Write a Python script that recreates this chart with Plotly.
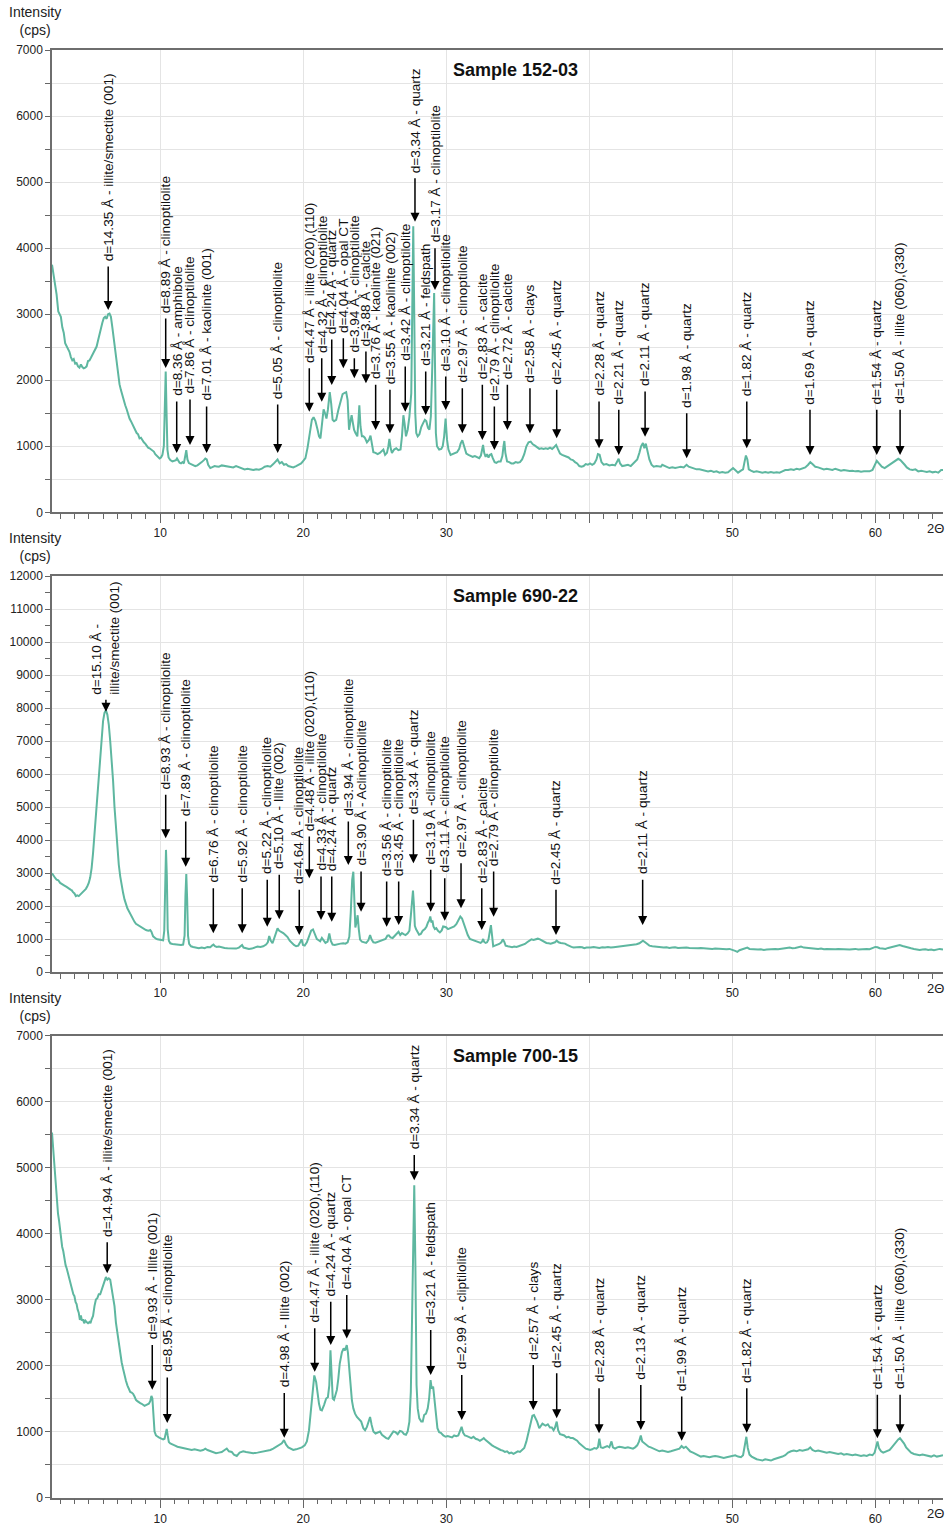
import plotly.graph_objects as go

# ---------------- data (2theta, intensity cps) ----------------
S152_03 = [(2.43,3750),(2.55,3600),(2.65,3420),(2.75,3300),(2.87,3040),(2.95,3000),(3.05,2960),(3.15,2800),(3.25,2720),(3.35,2560),
(3.45,2510),(3.55,2480),(3.65,2430),(3.75,2350),(3.85,2300),(3.95,2320),(4.05,2250),(4.15,2260),(4.25,2210),(4.35,2190),
(4.45,2240),(4.55,2200),(4.65,2180),(4.75,2190),(4.85,2210),(4.95,2290),(5.05,2300),(5.15,2340),(5.25,2380),(5.35,2420),
(5.45,2460),(5.55,2510),(5.65,2600),(5.75,2700),(5.85,2790),(5.95,2870),(6.05,2940),(6.15,2960),(6.25,2930),(6.35,3000),
(6.45,3010),(6.55,2960),(6.65,2800),(6.75,2620),(6.85,2420),(6.95,2210),(7.05,2060),(7.15,1940),(7.25,1850),(7.35,1760),
(7.45,1690),(7.55,1620),(7.65,1560),(7.75,1470),(7.85,1420),(7.95,1380),(8.05,1330),(8.15,1290),(8.25,1240),(8.35,1200),
(8.45,1180),(8.55,1120),(8.65,1130),(8.75,1090),(8.85,1060),(8.95,1040),(9.05,1010),(9.15,980),(9.25,970),(9.35,950),
(9.45,940),(9.55,920),(9.65,880),(9.75,860),(9.85,840),(9.95,815),(10.05,830),(10.15,870),(10.25,1000),(10.32,1600),
(10.38,2130),(10.44,1500),(10.5,950),(10.58,830),(10.7,790),(10.85,770),(11.0,780),(11.1,790),(11.17,815),(11.25,780),
(11.35,750),(11.45,740),(11.55,760),(11.65,740),(11.75,830),(11.82,940),(11.9,800),(12.0,745),(12.15,730),(12.3,720),
(12.45,700),(12.6,710),(12.75,730),(12.9,760),(13.05,790),(13.15,815),(13.25,800),(13.35,720),(13.5,670),(13.65,690),
(13.8,700),(13.95,695),(14.1,690),(14.3,710),(14.5,700),(14.7,690),(14.9,680),(15.1,680),(15.3,700),(15.5,680),
(15.7,660),(15.9,650),(16.1,660),(16.3,650),(16.5,640),(16.7,650),(16.9,645),(17.1,660),(17.3,690),(17.5,700),
(17.7,690),(17.9,730),(18.05,760),(18.2,800),(18.35,740),(18.5,760),(18.65,720),(18.8,730),(18.95,700),(19.1,690),
(19.3,680),(19.5,700),(19.7,720),(19.85,740),(20.0,780),(20.15,820),(20.3,980),(20.45,1200),(20.6,1400),(20.72,1440),
(20.85,1380),(21.0,1250),(21.1,1150),(21.2,1120),(21.3,1300),(21.42,1560),(21.52,1500),(21.62,1420),(21.72,1550),(21.85,1820),
(21.95,1650),(22.05,1400),(22.15,1380),(22.3,1400),(22.45,1550),(22.6,1680),(22.75,1790),(22.9,1810),(23.0,1820),(23.1,1700),
(23.2,1250),(23.3,1380),(23.38,1470),(23.47,1350),(23.55,1250),(23.65,1200),(23.78,1150),(23.86,1400),(23.92,1620),(24.0,1300),
(24.1,1150),(24.2,1150),(24.3,1130),(24.45,1060),(24.6,1100),(24.7,1160),(24.8,1000),(24.9,910),(25.05,900),(25.2,880),
(25.35,900),(25.5,930),(25.6,950),(25.72,870),(25.85,900),(25.95,1000),(26.02,1110),(26.12,960),(26.2,900),(26.35,950),
(26.5,970),(26.65,940),(26.8,950),(26.9,1150),(27.0,1470),(27.08,1350),(27.18,1150),(27.3,1250),(27.42,1450),(27.55,1800),
(27.62,3200),(27.69,4330),(27.76,3000),(27.83,1500),(27.9,1200),(28.0,1150),(28.12,1180),(28.25,1290),(28.38,1350),(28.5,1400),
(28.6,1380),(28.72,1280),(28.82,1250),(28.92,1450),(29.02,2200),(29.1,3000),(29.15,3320),(29.2,2400),(29.27,1200),(29.35,1000),
(29.5,950),(29.65,960),(29.75,1000),(29.85,1150),(29.95,1420),(30.05,1100),(30.15,950),(30.3,870),(30.45,880),(30.6,900),
(30.75,910),(30.9,960),(31.0,1040),(31.12,1090),(31.25,1000),(31.4,890),(31.55,870),(31.7,860),(31.85,840),(32.0,850),
(32.15,830),(32.3,820),(32.42,860),(32.5,960),(32.57,1020),(32.65,900),(32.75,840),(32.85,880),(32.95,830),(33.05,870),
(33.15,880),(33.25,820),(33.38,760),(33.5,750),(33.65,770),(33.8,770),(33.92,850),(34.0,1000),(34.06,1080),(34.13,900),
(34.25,770),(34.4,760),(34.55,740),(34.7,740),(34.85,760),(35.0,750),(35.15,760),(35.3,800),(35.45,880),(35.6,1000),
(35.75,1060),(35.9,1070),(36.05,1030),(36.2,1010),(36.35,980),(36.5,960),(36.65,970),(36.8,960),(36.95,970),(37.1,960),
(37.25,980),(37.4,960),(37.55,990),(37.68,1020),(37.8,960),(37.95,890),(38.1,870),(38.25,860),(38.4,840),(38.55,830),
(38.7,800),(38.85,790),(39.0,760),(39.15,740),(39.3,700),(39.45,690),(39.6,700),(39.75,730),(39.9,720),(40.05,740),
(40.2,720),(40.35,740),(40.5,800),(40.6,880),(40.72,870),(40.85,760),(41.0,720),(41.2,730),(41.4,710),(41.6,720),
(41.8,710),(41.95,760),(42.05,810),(42.15,740),(42.3,700),(42.5,710),(42.7,720),(42.9,700),(43.05,730),(43.2,760),
(43.35,800),(43.5,900),(43.62,1000),(43.75,1050),(43.85,970),(43.95,1040),(44.05,950),(44.2,800),(44.35,720),(44.5,690),
(44.7,700),(44.85,700),(45.0,690),(45.1,720),(45.2,710),(45.4,680),(45.6,670),(45.8,680),(46.0,670),(46.2,680),
(46.4,690),(46.6,680),(46.8,720),(46.95,690),(47.1,680),(47.3,670),(47.5,650),(47.7,650),(47.9,640),(48.1,640),
(48.3,620),(48.5,630),(48.7,610),(48.9,620),(49.1,600),(49.3,610),(49.5,600),(49.7,605),(49.9,640),(50.05,670),
(50.2,640),(50.4,600),(50.6,630),(50.75,650),(50.85,760),(50.95,860),(51.05,800),(51.15,650),(51.3,630),(51.5,610),
(51.7,620),(51.9,605),(52.1,600),(52.3,610),(52.5,600),(52.7,610),(52.9,600),(53.1,605),(53.3,600),(53.5,620),
(53.7,640),(53.9,640),(54.1,650),(54.3,640),(54.5,660),(54.7,650),(54.9,665),(55.1,680),(55.3,720),(55.45,760),
(55.6,730),(55.8,690),(56.0,680),(56.2,660),(56.4,650),(56.6,660),(56.8,650),(57.0,640),(57.2,660),(57.4,640),
(57.6,630),(57.8,640),(58.0,630),(58.2,625),(58.4,630),(58.6,620),(58.8,625),(59.0,615),(59.2,620),(59.4,615),
(59.6,620),(59.8,640),(59.95,720),(60.1,780),(60.25,740),(60.45,690),(60.65,670),(60.85,700),(61.05,720),(61.25,750),
(61.45,780),(61.6,810),(61.75,790),(61.9,760),(62.05,720),(62.2,680),(62.4,650),(62.6,640),(62.8,650),(63.0,620),
(63.2,630),(63.4,620),(63.6,610),(63.8,620),(64.0,605),(64.2,615),(64.4,600),(64.6,640),(64.73,640)]

S690_22 = [(2.43,2990),(2.55,2900),(2.65,2850),(2.75,2800),(2.87,2780),(3.0,2700),(3.1,2680),(3.2,2650),(3.3,2620),(3.45,2580),
(3.55,2560),(3.65,2520),(3.75,2490),(3.8,2480),(3.9,2420),(4.0,2380),(4.1,2300),(4.2,2320),(4.3,2300),(4.4,2340),
(4.5,2380),(4.6,2430),(4.7,2460),(4.8,2520),(4.9,2600),(5.0,2700),(5.1,2860),(5.2,3150),(5.3,3600),(5.4,4200),
(5.5,4750),(5.6,5300),(5.7,6000),(5.8,6700),(5.9,7200),(6.0,7600),(6.1,7850),(6.2,7930),(6.3,7800),(6.4,7500),
(6.5,7000),(6.6,6450),(6.7,5800),(6.8,5000),(6.9,4300),(7.0,3700),(7.1,3250),(7.2,2900),(7.3,2600),(7.4,2400),
(7.5,2200),(7.6,2050),(7.7,1930),(7.8,1850),(7.9,1760),(8.0,1650),(8.1,1580),(8.2,1520),(8.3,1460),(8.4,1430),
(8.5,1400),(8.6,1370),(8.7,1340),(8.8,1310),(8.9,1290),(9.0,1270),(9.1,1260),(9.2,1250),(9.3,1270),(9.38,1220),
(9.5,1080),(9.6,1030),(9.7,1010),(9.8,990),(9.9,980),(10.0,960),(10.1,950),(10.2,960),(10.28,1250),(10.34,2900),
(10.4,3700),(10.46,2900),(10.52,1300),(10.6,950),(10.7,870),(10.85,850),(11.0,840),(11.15,830),(11.3,840),(11.45,820),
(11.6,830),(11.7,1100),(11.76,2300),(11.82,2970),(11.88,2200),(11.94,1100),(12.02,850),(12.15,780),(12.3,760),(12.5,730),
(12.7,720),(12.9,740),(13.1,720),(13.3,760),(13.5,750),(13.62,800),(13.72,830),(13.82,780),(13.95,760),(14.1,770),
(14.3,740),(14.5,730),(14.7,720),(14.9,710),(15.1,720),(15.3,710),(15.5,740),(15.62,770),(15.72,820),(15.82,740),
(16.0,720),(16.2,700),(16.4,710),(16.6,750),(16.8,770),(17.0,760),(17.2,780),(17.4,830),(17.52,900),(17.62,1090),
(17.72,950),(17.85,870),(17.98,1050),(18.1,1250),(18.2,1320),(18.32,1250),(18.45,1220),(18.6,1180),(18.75,1120),(18.9,1060),
(19.05,950),(19.2,880),(19.35,820),(19.5,780),(19.65,800),(19.78,900),(19.88,990),(19.98,820),(20.1,800),(20.25,900),
(20.4,1050),(20.55,1250),(20.68,1290),(20.8,1180),(20.95,1000),(21.05,970),(21.18,930),(21.3,1030),(21.42,960),(21.55,880),
(21.7,920),(21.82,1170),(21.92,950),(22.05,830),(22.2,820),(22.4,850),(22.6,860),(22.8,870),(22.95,860),(23.1,900),
(23.22,1070),(23.32,1800),(23.42,2800),(23.5,3040),(23.58,2100),(23.64,1350),(23.72,1500),(23.8,1720),(23.88,1300),(23.97,980),
(24.1,920),(24.25,900),(24.4,880),(24.55,960),(24.67,1120),(24.78,980),(24.9,900),(25.05,890),(25.25,920),(25.45,960),
(25.6,970),(25.75,1000),(25.88,1100),(25.98,1110),(26.1,1050),(26.25,1030),(26.4,1100),(26.55,1180),(26.66,1220),(26.78,1120),
(26.9,1180),(27.02,1150),(27.15,1120),(27.3,1170),(27.42,1250),(27.52,1700),(27.6,2300),(27.67,2470),(27.74,2000),(27.8,1400),
(27.88,1300),(27.98,1200),(28.1,1130),(28.22,1150),(28.35,1250),(28.5,1300),(28.62,1380),(28.72,1500),(28.8,1560),(28.88,1680),
(28.96,1500),(29.03,1560),(29.1,1380),(29.2,1300),(29.3,1330),(29.42,1250),(29.55,1200),(29.68,1260),(29.78,1380),(29.88,1370),
(30.0,1350),(30.12,1300),(30.25,1330),(30.4,1370),(30.55,1380),(30.7,1450),(30.85,1590),(30.98,1680),(31.1,1620),(31.22,1450),
(31.35,1260),(31.5,1120),(31.65,1000),(31.8,980),(31.95,950),(32.1,920),(32.25,900),(32.4,880),(32.5,920),(32.58,1000),
(32.65,910),(32.75,880),(32.85,900),(32.95,990),(33.05,1250),(33.12,1420),(33.2,1100),(33.28,780),(33.4,800),(33.55,820),
(33.7,850),(33.85,900),(33.95,990),(34.05,920),(34.15,800),(34.3,780),(34.45,760),(34.6,750),(34.75,770),(34.9,760),
(35.05,780),(35.2,800),(35.35,820),(35.5,850),(35.65,900),(35.8,960),(35.95,990),(36.1,970),(36.25,1000),(36.4,1010),
(36.55,990),(36.7,950),(36.85,920),(37.0,880),(37.15,870),(37.3,860),(37.45,880),(37.6,900),(37.72,950),(37.85,900),
(38.0,880),(38.15,870),(38.3,860),(38.45,820),(38.6,780),(38.75,760),(38.9,740),(39.05,750),(39.2,740),(39.35,760),
(39.5,750),(39.65,720),(39.8,740),(39.95,730),(40.1,740),(40.3,760),(40.5,740),(40.7,730),(40.9,750),(41.1,740),
(41.3,760),(41.5,740),(41.7,750),(41.9,760),(42.1,770),(42.3,780),(42.5,790),(42.7,800),(42.9,810),(43.1,830),
(43.3,840),(43.5,870),(43.65,920),(43.75,950),(43.9,900),(44.05,840),(44.2,800),(44.4,780),(44.6,770),(44.8,750),
(45.0,760),(45.2,740),(45.4,750),(45.6,730),(45.8,740),(46.0,750),(46.2,730),(46.4,740),(46.6,730),(46.8,740),
(47.0,730),(47.2,720),(47.4,730),(47.6,720),(47.8,730),(48.0,720),(48.2,710),(48.4,720),(48.6,700),(48.8,710),
(49.0,700),(49.2,690),(49.4,700),(49.6,690),(49.8,700),(50.0,680),(50.2,640),(50.35,610),(50.5,660),(50.7,690),
(50.9,720),(51.05,740),(51.2,700),(51.4,690),(51.6,700),(51.8,680),(52.0,690),(52.2,670),(52.4,680),(52.6,690),
(52.8,680),(53.0,700),(53.2,690),(53.4,710),(53.6,720),(53.8,730),(54.0,740),(54.2,720),(54.4,730),(54.6,760),
(54.8,770),(55.0,740),(55.2,730),(55.4,720),(55.6,730),(55.8,710),(56.0,700),(56.2,710),(56.4,690),(56.6,700),
(56.8,690),(57.0,700),(57.2,690),(57.4,700),(57.6,690),(57.8,680),(58.0,690),(58.2,680),(58.4,690),(58.6,700),
(58.8,680),(59.0,690),(59.2,680),(59.4,700),(59.6,690),(59.8,720),(60.0,760),(60.15,750),(60.3,720),(60.5,710),
(60.7,700),(60.9,730),(61.1,750),(61.3,780),(61.5,810),(61.7,820),(61.9,790),(62.1,760),(62.3,740),(62.5,720),
(62.7,700),(62.9,680),(63.1,670),(63.3,680),(63.5,690),(63.7,670),(63.9,680),(64.1,660),(64.3,690),(64.5,700),(64.73,680)]

S700_15 = [(2.43,5530),(2.5,5300),(2.59,5080),(2.68,4800),(2.76,4570),(2.85,4300),(2.92,4200),(2.99,4040),(3.07,3900),(3.14,3800),
(3.22,3730),(3.3,3600),(3.38,3520),(3.46,3470),(3.55,3380),(3.62,3320),(3.69,3290),(3.8,3180),(3.92,3080),(4.0,3050),
(4.08,2960),(4.15,2930),(4.22,2850),(4.3,2800),(4.38,2690),(4.45,2760),(4.52,2680),(4.6,2700),(4.68,2640),(4.76,2680),
(4.85,2660),(4.95,2640),(5.05,2660),(5.12,2640),(5.2,2700),(5.3,2750),(5.4,2900),(5.5,3000),(5.6,3020),(5.7,3080),
(5.8,3080),(5.9,3150),(6.0,3220),(6.1,3300),(6.2,3340),(6.3,3300),(6.4,3320),(6.5,3300),(6.6,3150),(6.7,3000),
(6.8,2900),(6.9,2650),(7.0,2480),(7.1,2320),(7.2,2160),(7.3,2050),(7.4,1950),(7.5,1830),(7.6,1770),(7.7,1700),
(7.8,1640),(7.9,1600),(8.0,1590),(8.1,1570),(8.2,1530),(8.3,1480),(8.4,1460),(8.5,1440),(8.6,1430),(8.7,1420),
(8.8,1400),(8.9,1390),(9.0,1400),(9.1,1410),(9.2,1420),(9.3,1460),(9.38,1540),(9.45,1500),(9.52,1150),(9.6,1000),
(9.7,940),(9.8,920),(9.9,910),(10.0,900),(10.1,890),(10.2,880),(10.3,890),(10.38,960),(10.45,1040),(10.52,940),
(10.6,840),(10.7,820),(10.85,800),(11.0,790),(11.2,770),(11.4,760),(11.6,750),(11.8,740),(12.0,730),(12.2,720),
(12.4,730),(12.6,720),(12.8,710),(13.0,720),(13.15,740),(13.3,720),(13.5,700),(13.7,690),(13.9,670),(14.1,680),
(14.3,690),(14.5,720),(14.65,740),(14.8,700),(15.0,690),(15.15,650),(15.35,630),(15.55,680),(15.8,700),(16.0,690),
(16.2,680),(16.5,670),(16.8,680),(17.1,690),(17.4,700),(17.7,720),(17.9,740),(18.1,770),(18.3,790),(18.5,820),
(18.65,870),(18.8,800),(18.95,760),(19.1,740),(19.3,720),(19.5,730),(19.7,740),(19.9,760),(20.1,790),(20.25,850),
(20.4,1020),(20.52,1300),(20.65,1650),(20.77,1850),(20.9,1750),(21.0,1550),(21.1,1420),(21.2,1330),(21.3,1320),(21.45,1400),
(21.6,1500),(21.72,1520),(21.82,1700),(21.9,2230),(21.98,1800),(22.06,1500),(22.15,1480),(22.25,1550),(22.35,1630),(22.45,1800),
(22.55,2030),(22.7,2200),(22.82,2260),(22.92,2230),(23.04,2310),(23.12,2200),(23.22,1930),(23.32,1650),(23.4,1470),(23.5,1350),
(23.62,1270),(23.75,1220),(23.9,1180),(24.05,1150),(24.2,1050),(24.32,1020),(24.45,1070),(24.58,1150),(24.67,1220),(24.78,1100),
(24.9,1000),(25.05,970),(25.2,990),(25.36,1000),(25.5,950),(25.65,920),(25.8,900),(25.95,890),(26.1,940),(26.2,960),
(26.3,1000),(26.45,990),(26.6,960),(26.76,1010),(26.9,1000),(27.05,960),(27.18,950),(27.3,1000),(27.42,1150),(27.52,1600),
(27.6,2800),(27.68,4050),(27.76,4730),(27.84,3500),(27.92,1700),(28.0,1350),(28.11,1200),(28.25,1150),(28.35,1150),(28.45,1250),
(28.58,1270),(28.7,1350),(28.8,1500),(28.9,1780),(28.98,1650),(29.08,1680),(29.16,1500),(29.26,1200),(29.38,1050),(29.5,990),
(29.62,980),(29.79,940),(29.95,920),(30.1,930),(30.25,920),(30.4,910),(30.55,940),(30.7,930),(30.84,940),(30.95,990),
(31.07,1070),(31.18,980),(31.3,940),(31.45,930),(31.6,910),(31.75,900),(31.9,920),(32.05,890),(32.2,880),(32.35,860),
(32.5,880),(32.62,900),(32.75,870),(32.9,840),(33.05,820),(33.2,790),(33.35,770),(33.5,750),(33.65,730),(33.8,720),
(33.95,710),(34.1,690),(34.25,700),(34.4,670),(34.55,680),(34.7,660),(34.85,680),(35.0,700),(35.15,690),(35.3,720),
(35.45,750),(35.6,850),(35.75,1000),(35.9,1150),(36.02,1240),(36.13,1250),(36.25,1200),(36.35,1150),(36.5,1050),(36.6,1080),
(36.72,1120),(36.85,1100),(36.95,1090),(37.1,1110),(37.25,1060),(37.38,1060),(37.5,1020),(37.6,1060),(37.72,1150),(37.82,1020),
(37.95,960),(38.1,950),(38.25,940),(38.4,910),(38.55,920),(38.7,900),(38.85,900),(39.0,880),(39.15,860),(39.3,820),
(39.45,790),(39.6,760),(39.75,740),(39.9,730),(40.05,720),(40.2,730),(40.35,750),(40.5,740),(40.6,760),(40.7,890),
(40.8,760),(40.95,750),(41.1,760),(41.25,780),(41.4,760),(41.55,850),(41.65,760),(41.8,740),(41.95,760),(42.1,770),
(42.3,760),(42.5,750),(42.7,760),(42.9,750),(43.05,740),(43.2,760),(43.35,790),(43.48,850),(43.6,940),(43.7,850),
(43.85,820),(44.0,790),(44.15,770),(44.3,760),(44.5,740),(44.7,720),(44.9,700),(45.1,710),(45.3,700),(45.5,690),
(45.7,700),(45.9,710),(46.1,730),(46.3,740),(46.45,780),(46.6,750),(46.75,770),(46.9,740),(47.05,700),(47.25,680),
(47.45,660),(47.65,640),(47.8,620),(48.0,630),(48.2,620),(48.4,610),(48.6,620),(48.8,630),(49.0,620),(49.2,610),
(49.4,600),(49.6,610),(49.8,620),(50.0,630),(50.2,640),(50.4,620),(50.6,610),(50.75,640),(50.88,800),(50.98,920),
(51.08,750),(51.2,650),(51.35,620),(51.5,600),(51.7,580),(51.9,570),(52.1,560),(52.3,580),(52.5,570),(52.7,560),
(52.9,580),(53.1,590),(53.3,600),(53.5,620),(53.7,640),(53.9,680),(54.1,700),(54.3,710),(54.5,700),(54.7,720),
(54.9,710),(55.1,720),(55.3,730),(55.45,760),(55.6,720),(55.8,700),(56.0,710),(56.2,700),(56.4,690),(56.6,680),
(56.8,690),(57.0,680),(57.2,670),(57.4,660),(57.6,670),(57.8,650),(58.0,660),(58.2,650),(58.4,640),(58.6,650),
(58.8,640),(59.0,630),(59.2,640),(59.4,630),(59.6,650),(59.8,640),(59.95,680),(60.08,780),(60.15,850),(60.25,750),
(60.4,700),(60.55,680),(60.7,690),(60.85,700),(61.0,720),(61.15,760),(61.3,800),(61.45,850),(61.6,880),(61.72,900),
(61.85,870),(62.0,820),(62.15,760),(62.3,720),(62.5,680),(62.7,660),(62.9,650),(63.1,640),(63.3,650),(63.5,640),
(63.7,630),(63.9,620),(64.1,640),(64.3,620),(64.5,630),(64.73,640)]

# ---------------- peak labels: text, 2theta, arrow head cps, arrow tail cps ----------------
LAB1_TEXT = ["d=14.35 Å - illite/smectite (001)", "d=8.89 Å - clinoptilolite", "d=8.36 Å - amphibole",
             "d=7.86 Å - clinoptilolite", "d=7.01 Å - kaolinite (001)", "d=5.05 Å - clinoptilolite",
             "d=4.47 Å - illite (020),(110)", "d=4.32 Å - clinoptilolite", "d=4.24 Å - quartz",
             "d=4.04 Å - opal CT", "d=3.94 Å - clinoptilolite", "d=3.88 Å - calcite",
             "d=3.76 Å - kaolinite (021)", "d=3.55 Å - kaolinite (002)", "d=3.42 Å - clinoptilolite",
             "d=3.34 Å - quartz", "d=3.21 Å - feldspath", "d=3.17 Å - clinoptilolite",
             "d=3.10 Å - clinoptilolite", "d=2.97 Å - clinoptilolite", "d=2.83 Å - calcite",
             "d=2.79 Å - clinoptilolite", "d=2.72 Å - calcite", "d=2.58 Å - clays",
             "d=2.45 Å - quartz", "d=2.28 Å - quartz", "d=2.21 Å - quartz", "d=2.11 Å - quartz",
             "d=1.98 Å - quartz", "d=1.82 Å - quartz", "d=1.69 Å - quartz", "d=1.54 Å - quartz",
             "d=1.50 Å - illite (060),(330)"]
LAB1_POS = [6.36, 10.38, 11.15, 12.08, 13.24, 18.21, 20.42, 21.29, 21.99, 22.8, 23.57, 24.38, 25.06, 26.06,
            27.13, 27.81, 28.56, 29.21, 29.96, 31.12, 32.52, 33.36, 34.27, 35.85, 37.72, 40.68, 42.06,
            43.9, 46.81, 51.01, 55.43, 60.1, 61.73]
LAB1_HEAD = [3063, 2185, 899, 1019, 899, 899, 1523, 1675, 1927, 2180, 2029, 1953, 1246, 1196, 1523, 4400,
             1473, 3366, 1549, 1196, 1095, 943, 1246, 1196, 1120, 969, 868, 1145, 818, 969, 868, 868, 868]
LAB1_TAIL = [3744, 2957, 1700, 1730, 1625, 1655, 2204, 2356, 2639, 2659, 2356, 2457, 1953, 1877, 2230, 5081,
             2155, 4021, 2079, 1902, 1953, 1625, 1953, 1902, 1877, 1700, 1575, 1852, 1523, 1700, 1575, 1575, 1575]

LAB2_TEXT = ["d=15.10 Å -<br>illite/smectite (001)", "d=8.93 Å - clinoptilolite", "d=7.89 Å - clinoptilolite",
             "d=6.76 Å - clinoptilolite", "d=5.92 Å - clinoptilolite", "d=5.22 Å - clinoptilolite",
             "d=5.10 Å - Illite (002)", "d=4.64 Å - clinoptilolite", "d=4.48 Å - illite (020),(110)",
             "d=4.33 Å - clinoptilolite", "d=4.24 Å - quartz", "d=3.94 Å - clinoptilolite",
             "d=3.90 Å - Aclinoptilolite", "d=3.56 Å - clinoptilolite", "d=3.45 Å - clinoptilolite",
             "d=3.34 Å - quartz", "d=3.19 Å -clinoptilolite", "d=3.11 Å - clinoptilolite",
             "d=2.97 Å - clinoptilolite", "d=2.83 Å - calcite", "d=2.79 Å - clinoptilolite",
             "d=2.45 Å - quartz", "d=2.11 Å - quartz"]
LAB2_POS = [6.2, 10.38, 11.78, 13.71, 15.73, 17.48, 18.32, 19.72, 20.42, 21.24, 21.99, 23.15, 24.04, 25.83,
            26.67, 27.7, 28.91, 29.89, 31.03, 32.48, 33.31, 37.67, 43.73]
LAB2_HEAD = [7887, 4051, 3191, 1173, 1173, 1373, 1597, 1121, 2839, 1576, 1524, 3242, 1827, 1373, 1424, 3294,
             1827, 1554, 1930, 1273, 1676, 1121, 1424]
LAB2_TAIL = [8293, 5415, 4606, 2585, 2585, 2839, 2991, 2536, 4151, 2939, 2939, 4606, 3091, 2788, 2788, 4657,
             3142, 2888, 3342, 2585, 3091, 2536, 2839]

LAB3_TEXT = ["d=14.94 Å - illite/smectite (001)", "d=9.93 Å - Illite (001)", "d=8.95 Å - clinoptilolite",
             "d=4.98 Å - Illite (002)", "d=4.47 Å - illite (020),(110)", "d=4.24 Å - quartz",
             "d=4.04 Å - opal CT", "d=3.34 Å - quartz", "d=3.21 Å - feldspath", "d=2.99 Å - cliptilolite",
             "d=2.57 Å - clays", "d=2.45 Å - quartz", "d=2.28 Å - quartz", "d=2.13 Å - quartz",
             "d=1.99 Å - quartz", "d=1.82 Å - quartz", "d=1.54 Å - quartz", "d=1.50 Å - illite (060),(330)"]
LAB3_POS = [6.29, 9.44, 10.49, 18.67, 20.8, 21.92, 23.04, 27.76, 28.91, 31.08, 36.08, 37.72, 40.68, 43.6,
            46.46, 51.01, 60.14, 61.73]
LAB3_HEAD = [3397, 1631, 1128, 904, 1905, 2309, 2410, 4807, 1855, 1173, 1325, 1199, 972, 1022, 860, 981, 896, 972]
LAB3_TAIL = [3891, 2332, 1840, 1605, 2586, 2990, 3092, 5211, 2562, 1880, 2032, 1905, 1677, 1729, 1552, 1677, 1578, 1578]

TITLES = ["Sample 152-03", "Sample 690-22", "Sample 700-15"]
X_TICKS = [10, 20, 30, 40, 50, 60]
X_TICK_TEXT = ["10", "20", "30", "", "50", "60"]
Y_MAX = [7000, 12000, 7000]

# ---------------- layout geometry ----------------
W, H = 945, 1528
ML, MR = 52, 2
PANEL_PX = [(50, 512.3), (576, 972), (1035.5, 1497.5)]  # top, bottom in pixels
XRANGE = [2.43, 64.73]
LINE_COLOR = "#5EB7A0"
FONT = "Liberation Sans, Arial, sans-serif"
PW = W - ML - MR

fig = go.Figure()
samples = [S152_03, S690_22, S700_15]
labels = [(LAB1_TEXT, LAB1_POS, LAB1_HEAD, LAB1_TAIL),
          (LAB2_TEXT, LAB2_POS, LAB2_HEAD, LAB2_TAIL),
          (LAB3_TEXT, LAB3_POS, LAB3_HEAD, LAB3_TAIL)]

annotations = []
for i in range(3):
    n = "" if i == 0 else str(i + 1)
    xs = [p[0] for p in samples[i]]
    ys = [p[1] for p in samples[i]]
    fig.add_trace(go.Scatter(x=xs, y=ys, mode="lines", line=dict(color=LINE_COLOR, width=2),
                             xaxis="x" + n, yaxis="y" + n, showlegend=False, hoverinfo="skip"))
    top, bot = PANEL_PX[i]
    dom = [1 - bot / H, 1 - top / H]
    fig.layout["xaxis" + n] = dict(
        domain=[0, 1], anchor="y" + n, range=XRANGE, tickvals=X_TICKS, ticktext=X_TICK_TEXT,
        ticks="outside", ticklen=9, tickcolor="#666", tickwidth=1,
        showline=True, linecolor="#6e6e6e", linewidth=1.5, mirror=True,
        showgrid=True, gridcolor="#e4e4e4", gridwidth=1, zeroline=False, automargin=False,
        tickfont=dict(family=FONT, size=12, color="#222"),
        minor=dict(dtick=1, tick0=0, ticks="outside", ticklen=5, tickcolor="#666", showgrid=False),
    )
    ymax = Y_MAX[i]
    fig.layout["yaxis" + n] = dict(
        domain=dom, anchor="x" + n, range=[0, ymax], dtick=1000, tick0=0, tickformat="d",
        ticks="outside", ticklen=5, tickcolor="#666", automargin=False,
        showline=True, linecolor="#6e6e6e", linewidth=1.5,
        showgrid=True, gridcolor="#e4e4e4", gridwidth=1, zeroline=False,
        tickfont=dict(family=FONT, size=12, color="#222"),
        minor=dict(dtick=500, tick0=0, ticks="outside", ticklen=5, tickcolor="#666",
                   showgrid=(ymax <= 7000), gridcolor="#e4e4e4"),
    )
    # title
    annotations.append(dict(text="<b>" + TITLES[i] + "</b>", xref="paper", yref="paper",
                            x=(515 - ML) / PW, y=1 - (top + 20) / H, xanchor="center", yanchor="middle",
                            showarrow=False, font=dict(family=FONT, size=18, color="#111")))
    # y-axis title
    annotations.append(dict(text="Intensity<br>(cps)", xref="paper", yref="paper",
                            x=(35 - ML) / PW, y=1 - (top - 29) / H, xanchor="center", yanchor="middle",
                            showarrow=False, font=dict(family=FONT, size=14, color="#222")))
    # x-axis title
    annotations.append(dict(text="2Θ", xref="paper", yref="paper",
                            x=(935 - ML) / PW, y=1 - (bot + 16) / H, xanchor="center", yanchor="middle",
                            showarrow=False, font=dict(family=FONT, size=13, color="#222")))
    # peak labels
    txt, pos, head, tail = labels[i]
    for t, xp, hy, ty in zip(txt, pos, head, tail):
        annotations.append(dict(text="", x=xp, y=hy, xref="x" + n, yref="y" + n,
                                ax=xp, ay=ty, axref="x" + n, ayref="y" + n,
                                showarrow=True, arrowhead=2, arrowsize=1.2, arrowwidth=1.5,
                                arrowcolor="#000", standoff=0, startstandoff=0))
        annotations.append(dict(text=t, x=xp, y=ty, xref="x" + n, yref="y" + n,
                                textangle=-90, showarrow=False, xanchor="center", yanchor="bottom",
                                yshift=2, align="left",
                                font=dict(family=FONT, size=13.6, color="#111")))

fig.update_layout(width=W, height=H, margin=dict(l=ML, r=MR, t=0, b=0, pad=0, autoexpand=False),
                  paper_bgcolor="white", plot_bgcolor="white", annotations=annotations,
                  font=dict(family=FONT))

fig.write_html("out.html", config={"displayModeBar": False},
               post_script="document.body.style.margin='0px';")
